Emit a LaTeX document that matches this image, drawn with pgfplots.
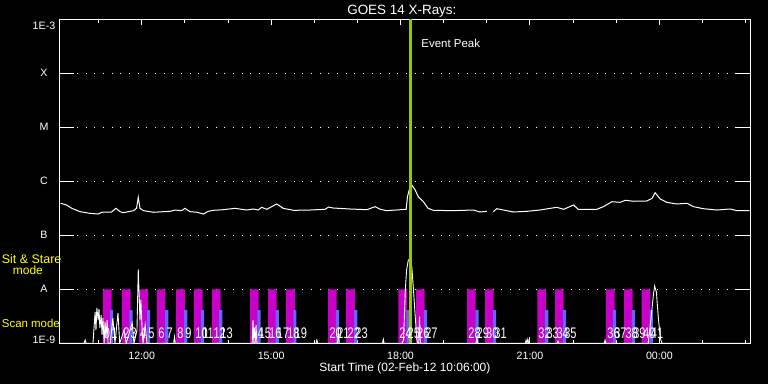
\documentclass[border=0pt]{standalone}
\usepackage{pgfplots}
\pgfplotsset{compat=1.18}
\usepackage{fontspec}
\setmainfont{Liberation Sans}
\usetikzlibrary{backgrounds}
\definecolor{barmag}{RGB}{200,0,200}
\definecolor{barblue}{RGB}{100,100,255}
\definecolor{evline}{RGB}{150,200,0}
\definecolor{labyellow}{RGB}{255,255,0}
\begin{document}
\begin{tikzpicture}
\begin{axis}[
  name=main,
  scale only axis, width=690.25bp, height=324bp,
  xmin=10.1, xmax=26.1,
  ymode=log, ymin=1e-9, ymax=1e-3, log origin y=infty,
  xtick={12,15,18,21,24}, xticklabels={12:00,15:00,18:00,21:00,00:00},
  minor xtick={11,13,14,16,17,19,20,22,23,25,26},
  major tick length=6bp, minor tick length=3.5bp,
  ytick={1e-9,1e-8,1e-7,1e-6,1e-5,1e-4,1e-3},
  yticklabels={\raisebox{3bp}[\height][\depth]{1E-9},A,B,C,M,X,\raisebox{-7bp}[\height][\depth]{1E-3}},
  ytick style={draw=none}, yminorticks=false,
  ymajorgrids,
  major grid style={white, line width=1bp, dash pattern=on 1bp off 7.66bp},
  axis line style={white, line width=1bp},
  tick style={white, line width=1bp},
  tick label style={text=white, font=\fontsize{10.7}{12}\selectfont},
  xticklabel style={anchor=base, yshift=-15.7bp},
  yticklabel style={anchor=center, xshift=-15.75bp},
  xlabel={Start Time (02-Feb-12 10:06:00)},
  xlabel style={at={(rel axis cs:0.5,0)}, anchor=base, yshift=-28.2bp, text=white, font=\fontsize{12}{14}\selectfont},
  title={GOES 14 X-Rays:},
  every axis title/.style={at={(rel axis cs:0.5,1)}, anchor=base, yshift=5.3bp, xshift=-3bp, text=white, font=\fontsize{13.5}{16}\selectfont},
]
% y tick segments (left and right)
\pgfplotsinvokeforeach{-8,-7,-6,-5,-4}{
  \draw[white, line width=1bp] (axis cs:10.1,1e#1) -- (axis cs:10.4246,1e#1);
  \draw[white, line width=1bp] (axis cs:25.7754,1e#1) -- (axis cs:26.1,1e#1);
}
% Sit & Stare bars (magenta)
\addplot[ybar, bar width=0.20, bar shift=0pt, fill=barmag, draw=none] coordinates {
(11.20,1e-8) (11.64,1e-8) (12.04,1e-8) (12.45,1e-8) (12.90,1e-8) (13.31,1e-8) (13.73,1e-8)
(14.61,1e-8) (15.03,1e-8) (15.45,1e-8) (16.42,1e-8) (16.84,1e-8) (18.05,1e-8) (18.46,1e-8)
(19.64,1e-8) (20.06,1e-8) (21.27,1e-8) (21.68,1e-8) (22.86,1e-8) (23.28,1e-8) (23.69,1e-8)
};
% Scan bars (blue)
\addplot[ybar, bar width=0.074, bar shift=0pt, fill=barblue, draw=none] coordinates {
(11.30,4.14e-9) (11.75,4.14e-9) (12.16,4.14e-9) (12.58,4.14e-9) (13.02,4.14e-9) (13.41,4.14e-9) (13.83,4.14e-9)
(14.72,4.14e-9) (15.14,4.14e-9) (15.55,4.14e-9) (16.54,4.14e-9) (16.96,4.14e-9) (18.17,4.14e-9) (18.58,4.14e-9)
(19.77,4.14e-9) (20.18,4.14e-9) (21.39,4.14e-9) (21.80,4.14e-9) (22.96,4.14e-9) (23.40,4.14e-9) (23.81,4.14e-9)
};
% bar numbers
\addplot[draw=none, mark=none, nodes near coords={\scalebox{0.72}[1]{\pgfplotspointmeta}},
  point meta=explicit symbolic,
  every node near coord/.append style={anchor=base west, inner sep=0pt, text=white, font=\fontsize{15.4}{16}\selectfont}]
  table[meta=lab] {
x y lab
11.12 1.25e-9 0
11.29 1.25e-9 1
11.57 1.25e-9 2
11.74 1.25e-9 3
11.96 1.25e-9 4
12.15 1.25e-9 5
12.38 1.25e-9 6
12.57 1.25e-9 7
12.82 1.25e-9 8
13.01 1.25e-9 9
13.24 1.25e-9 10
13.40 1.25e-9 11
13.66 1.25e-9 12
13.82 1.25e-9 13
14.54 1.25e-9 14
14.71 1.25e-9 15
14.95 1.25e-9 16
15.13 1.25e-9 17
15.37 1.25e-9 18
15.54 1.25e-9 19
16.35 1.25e-9 20
16.53 1.25e-9 21
16.77 1.25e-9 22
16.95 1.25e-9 23
17.97 1.25e-9 24
18.16 1.25e-9 25
18.38 1.25e-9 26
18.57 1.25e-9 27
19.57 1.25e-9 28
19.76 1.25e-9 29
19.98 1.25e-9 30
20.17 1.25e-9 31
21.19 1.25e-9 32
21.38 1.25e-9 33
21.61 1.25e-9 34
21.79 1.25e-9 35
22.79 1.25e-9 36
22.95 1.25e-9 37
23.21 1.25e-9 38
23.39 1.25e-9 39
23.62 1.25e-9 40
23.80 1.25e-9 41
};
% lower (observation) curve
\addplot[white, line width=0.9bp] coordinates {
(10.10,1e-9) (10.66,1e-9) (10.69,1.15e-9) (10.71,1e-9) (10.87,1e-9) (10.92,3.80e-9) (10.94,1.76e-9)
(10.96,4.51e-9) (10.99,2.70e-9) (11.01,4.32e-9) (11.03,1.92e-9) (11.06,3.34e-9) (11.08,1.43e-9)
(11.10,2.94e-9) (11.13,1e-9) (11.15,2.48e-9) (11.17,1.25e-9) (11.20,2.70e-9) (11.22,1e-9)
(11.27,1e-9) (11.33,2.94e-9) (11.38,1e-9) (11.45,3.64e-9) (11.49,1e-9) (11.59,1.76e-9) (11.64,1e-9)
(11.78,2.38e-9) (11.82,1e-9) (11.89,1.76e-9) (11.92,2.34e-8) (11.96,2.70e-9) (11.98,6.34e-9)
(12.01,1.76e-9) (12.03,1e-9) (12.08,2.18e-9) (12.12,1e-9) (12.74,1e-9) (12.76,1.32e-9) (12.78,1e-9)
(14.56,1e-9) (14.58,2.70e-9) (14.60,1e-9) (14.63,1e-9) (14.65,2.2e-9) (14.67,1e-9)
(16.04,1e-9) (16.06,1.15e-9) (16.08,1e-9) (16.54,1e-9) (16.56,1.76e-9) (16.58,1e-9)
(17.58,1e-9) (17.60,1.19e-9) (17.62,1e-9) (18.03,1e-9) (18.07,1.15e-9) (18.11,9.7e-9)
(18.14,2.28e-8) (18.18,3.49e-8) (18.22,3.60e-8) (18.26,2.62e-8) (18.30,9.7e-9) (18.34,3.11e-9)
(18.38,1.15e-9) (18.40,1e-9) (18.42,1e-9) (18.44,3.11e-9) (18.46,1e-9) (19.75,1e-9) (19.77,1.24e-9)
(19.79,1e-9) (20.89,1e-9) (20.91,1.15e-9) (20.93,1e-9) (20.95,1.19e-9) (20.97,1e-9) (21.63,1e-9)
(21.65,1.10e-9) (21.67,1e-9) (22.72,1e-9) (22.74,1.15e-9) (22.76,1e-9) (23.74,1e-9) (23.81,3.11e-9)
(23.86,7.8e-9) (23.89,1.15e-8) (23.93,8.9e-9) (23.97,3.34e-9) (24.02,1.25e-9) (24.06,1e-9) (26.1,1e-9)
};
% GOES 14 X-ray flux
\addplot[white, line width=1bp] coordinates {
(10.12,3.92e-7) (10.26,3.64e-7) (10.38,3.16e-7) (10.57,2.74e-7) (10.80,2.55e-7) (10.99,2.48e-7)
(11.07,2.67e-7) (11.30,2.70e-7) (11.40,3.16e-7) (11.50,2.74e-7) (11.57,2.62e-7) (11.81,2.86e-7)
(11.88,3.16e-7) (11.92,5.06e-7) (11.96,3.16e-7) (12.04,2.86e-7) (12.27,2.67e-7) (12.66,2.78e-7)
(12.77,2.94e-7) (12.93,2.86e-7) (13.00,3.16e-7) (13.12,2.74e-7) (13.28,2.67e-7) (13.43,2.48e-7)
(13.54,2.78e-7) (13.66,2.90e-7) (13.89,2.98e-7) (14.16,3.16e-7) (14.43,2.94e-7) (14.59,3.07e-7)
(14.70,2.94e-7) (14.78,3.30e-7) (14.90,3.03e-7) (15.01,3.39e-7) (15.13,3.80e-7) (15.28,3.16e-7)
(15.52,2.90e-7) (15.90,2.94e-7) (16.25,3.03e-7) (16.33,3.34e-7) (16.44,3.20e-7) (16.83,3.07e-7)
(17.22,2.98e-7) (17.41,3.39e-7) (17.53,3.03e-7) (17.68,2.86e-7) (18.13,3.03e-7) (18.16,5.19e-7)
(18.22,7.94e-7) (18.26,8.53e-7) (18.34,6.90e-7) (18.41,5.19e-7) (18.45,4.84e-7) (18.53,4.19e-7)
(18.61,3.39e-7) (18.64,3.16e-7) (18.76,2.90e-7) (19.22,2.86e-7) (19.69,2.94e-7) (19.84,2.70e-7)
(20.00,2.78e-7)
};
\addplot[white, line width=1bp] coordinates {
(20.15,2.74e-7) (20.23,3.11e-7) (20.62,2.70e-7) (20.93,2.78e-7) (21.23,2.94e-7) (21.62,3.30e-7)
(21.78,3.03e-7) (22.01,3.64e-7) (22.12,3.03e-7) (22.55,3.03e-7) (22.70,3.39e-7) (22.90,4.19e-7)
(23.09,4.08e-7) (23.21,4.45e-7) (23.40,4.27e-7) (23.71,4.32e-7) (23.83,4.84e-7) (23.90,6.15e-7)
(24.02,4.70e-7) (24.17,4.08e-7) (24.40,3.80e-7) (24.64,3.92e-7) (24.79,3.39e-7) (25.02,3.11e-7)
(25.33,2.94e-7) (25.64,3.07e-7) (25.80,2.86e-7) (26.09,2.86e-7)
};
% event peak line
\addplot[evline, line width=3bp] coordinates {(18.24,1e-9) (18.24,1e-3)};
\node[anchor=base west, inner sep=0pt, text=white, font=\fontsize{11.5}{13}\selectfont] at (axis cs:18.48,3.03e-4) {Event Peak};
\end{axis}
\node[anchor=base west, inner sep=0pt, text=labyellow, font=\fontsize{12.5}{14}\selectfont] at ([xshift=-58.05bp, yshift=80bp]main.south west) {Sit \& Stare};
\node[anchor=base west, inner sep=0pt, text=labyellow, font=\fontsize{12}{14}\selectfont] at ([xshift=-47.05bp, yshift=68.3bp]main.south west) {mode};
\node[anchor=base west, inner sep=0pt, text=labyellow, font=\fontsize{11.5}{13}\selectfont] at ([xshift=-58.05bp, yshift=15.6bp]main.south west) {Scan mode};
\pgfresetboundingbox
\begin{scope}[on background layer]
\fill[black] ([xshift=-59.75bp,yshift=-40.7bp]main.south west) rectangle ([xshift=18bp,yshift=19.3bp]main.north east);
\end{scope}
\end{tikzpicture}
\end{document}
